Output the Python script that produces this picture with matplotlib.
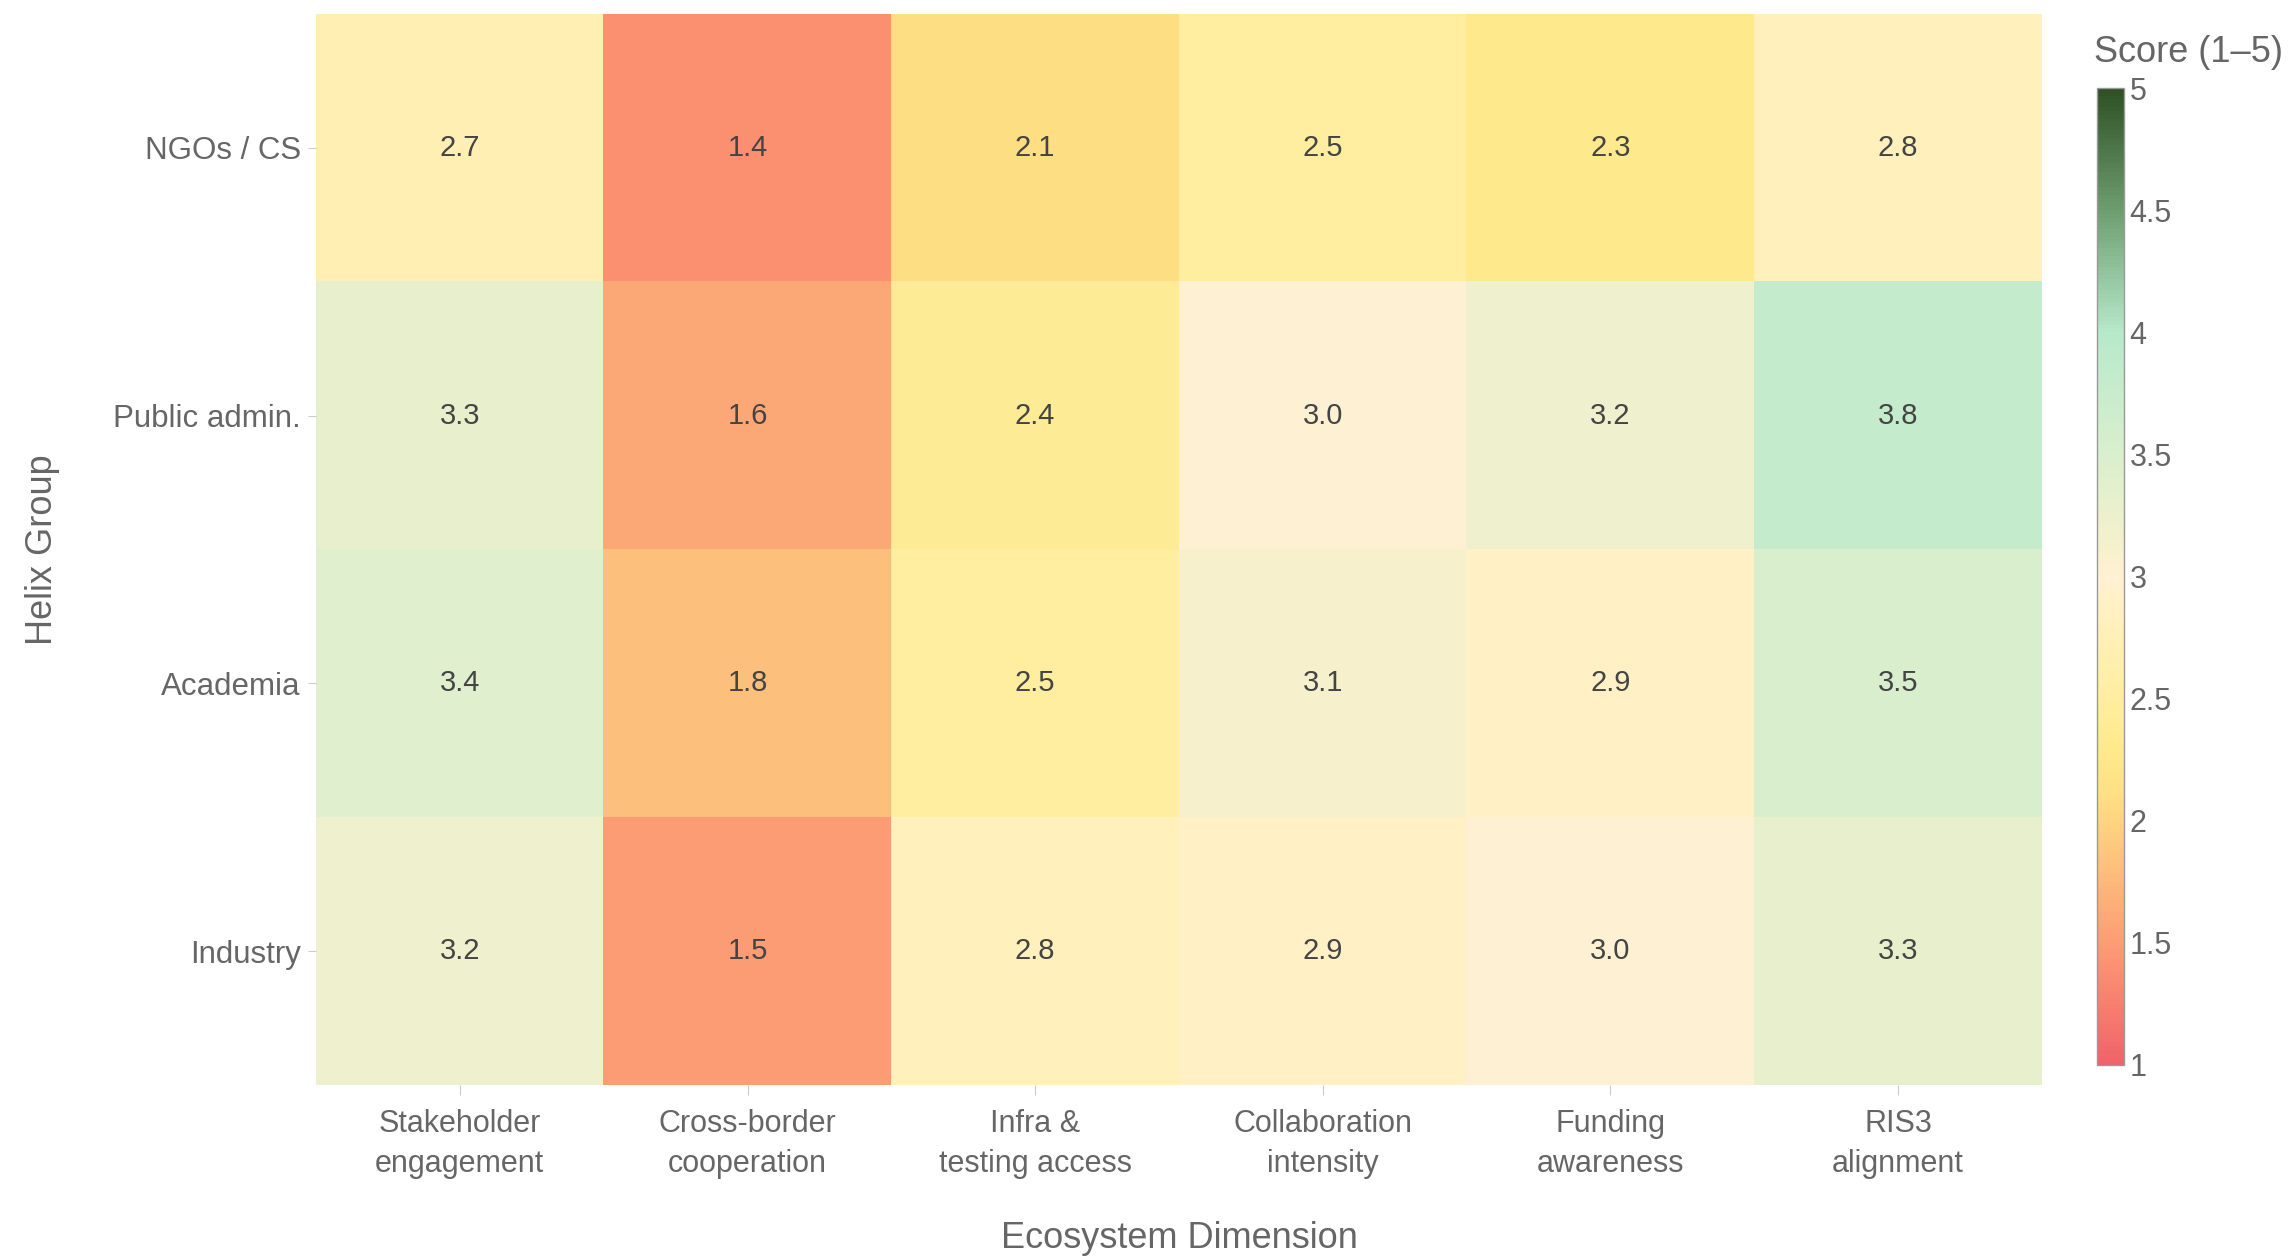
import numpy as np
import matplotlib.pyplot as plt
from matplotlib.colors import LinearSegmentedColormap

plt.rcParams['font.family'] = ['Liberation Sans', 'DejaVu Sans']

# Heatmap data
dimensions = ['Stakeholder\nengagement', 'Cross-border\ncooperation', 'Infra &\ntesting access',
              'Collaboration\nintensity', 'Funding\nawareness', 'RIS3\nalignment']
groups = ['NGOs / CS', 'Public admin.', 'Academia', 'Industry']
ngos = [2.7, 1.4, 2.1, 2.5, 2.3, 2.8]
public_admin = [3.3, 1.6, 2.4, 3.0, 3.2, 3.8]
academia = [3.4, 1.8, 2.5, 3.1, 2.9, 3.5]
industry = [3.2, 1.5, 2.8, 2.9, 3.0, 3.3]
scores = np.array([ngos, public_admin, academia, industry])

# custom red -> yellow -> cream -> green scale over 1..5
vmin, vmax = 1, 5
stop_vals = [1.0, 1.4, 1.8, 2.1, 2.3, 2.5, 2.9, 3.0, 3.1, 3.5, 4.0, 4.5, 5.0]
stop_cols = ['#f0636a', '#fc9172', '#fdbf7c', '#fedf84', '#feea8c', '#ffeea0', '#fff1c6',
             '#fff1d4', '#f7f1cd', '#d9efcd', '#b7e9cb', '#6e9e70', '#2e5024']
cmap = LinearSegmentedColormap.from_list(
    'score', [((v - vmin) / (vmax - vmin), c) for v, c in zip(stop_vals, stop_cols)])

fig = plt.figure(figsize=(22.94, 12.56), dpi=100)
ax = fig.add_axes([316 / 2294, 1 - 1085 / 1256, (2042 - 316) / 2294, (1085 - 14) / 1256])
cax = fig.add_axes([2097 / 2294, 1 - 1065 / 1256, 27 / 2294, (1065 - 88) / 1256])

im = ax.imshow(scores, cmap=cmap, vmin=vmin, vmax=vmax, aspect='auto')

for i in range(len(groups)):
    for j in range(len(dimensions)):
        ax.text(j, i, f'{scores[i, j]:.1f}', ha='center', va='center',
                fontsize=21, color='#444444')

ax.set_xticks(range(len(dimensions)))
ax.set_xticklabels(dimensions, fontsize=22, color='#666666', linespacing=1.45)
ax.set_yticks(range(len(groups)))
ax.set_yticklabels(groups, fontsize=22.5, color='#666666')
ax.tick_params(axis='x', length=7, color='#cccccc', pad=10)
ax.tick_params(axis='y', length=6, color='#cccccc', pad=5)
for s in ax.spines.values():
    s.set_visible(False)
ax.set_xlabel('Ecosystem Dimension', fontsize=26, color='#666666', labelpad=30)
ax.set_ylabel('Helix Group', fontsize=26, color='#666666', labelpad=38)

cb = fig.colorbar(im, cax=cax)
cb.set_ticks([1, 1.5, 2, 2.5, 3, 3.5, 4, 4.5, 5])
cb.set_ticklabels(['1', '1.5', '2', '2.5', '3', '3.5', '4', '4.5', '5'])
cb.ax.tick_params(length=0, labelsize=22, labelcolor='#666666', pad=4)
cb.outline.set_edgecolor('#999999')
cb.outline.set_linewidth(1)
fig.text(2094 / 2294, 1 - 52 / 1256, 'Score (1–5)', fontsize=26, color='#666666',
         ha='left', va='center')

fig.savefig('out.png', dpi=100)
